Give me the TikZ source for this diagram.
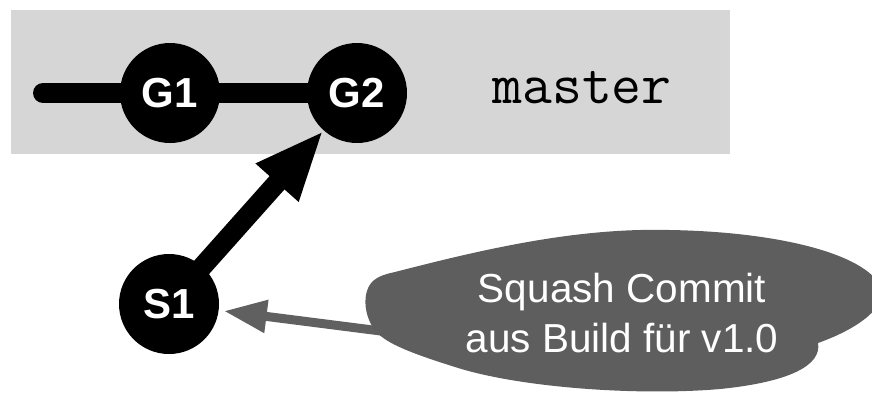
\documentclass[tikz,border=0pt]{standalone}
\usepackage{fontspec}
\setmainfont{Liberation Sans}
\usetikzlibrary{arrows.meta,backgrounds}
\definecolor{panelgray}{HTML}{D6D6D6}
\definecolor{blobgray}{HTML}{5E5E5E}
\definecolor{arrowgray}{HTML}{606060}
\tikzset{
  commit/.style={circle, fill=black, minimum size=100pt, inner sep=0pt,
    text=white, font=\fontsize{42}{50}\selectfont\bfseries},
  thickline/.style={line width=20pt},
  notearrow/.style={draw=arrowgray, line width=9pt,
    -{Triangle[length=43pt,width=31pt]}},
}
\begin{document}
\begin{tikzpicture}[x=1pt,y=-1pt]
  \useasboundingbox (0,0) rectangle (872,392);
  \clip (0,0) rectangle (872,392);
  % commits
  \node[commit] (G1) at (170,93) {G1};
  \node[commit] (G2) at (357,93) {G2};
  \node[commit] (S1) at (169,304) {S1};
  \coordinate (start) at (43,93);
  \coordinate (noteend) at (420,336);
  \node[anchor=base, font=\ttfamily\fontsize{58}{64}\selectfont] (master) at (582,103) {master};
  \begin{scope}[on background layer]
    \fill[panelgray] (11,10) rectangle (730,154);
    \draw[thickline, line cap=round] (start) -- (G2.center);
    \draw[thickline, shorten <=-15pt, -{Triangle[length=70pt,width=52pt]}] (S1) -- (G2);
    \draw[notearrow, shorten >=5pt] (noteend) -- (S1);
  \end{scope}
  % callout blob
  \fill[blobgray] (395,272)
    .. controls (480,250) and (560,232) .. (640,230)
    .. controls (760,228) and (860,250) .. (880,285)
    .. controls (890,305) and (860,328) .. (818,343)
    .. controls (822,365) and (790,382) .. (720,389)
    .. controls (640,396) and (520,388) .. (455,367)
    .. controls (420,356) and (395,347) .. (382,337)
    .. controls (365,325) and (360,295) .. (372,282)
    .. controls (378,276) and (386,274) .. (395,272) -- cycle;
  \node[text=white, align=center, font=\fontsize{40.5}{50}\selectfont] (note) at (622,313)
    {Squash Commit\\aus Build für v1.0};
\end{tikzpicture}
\end{document}
